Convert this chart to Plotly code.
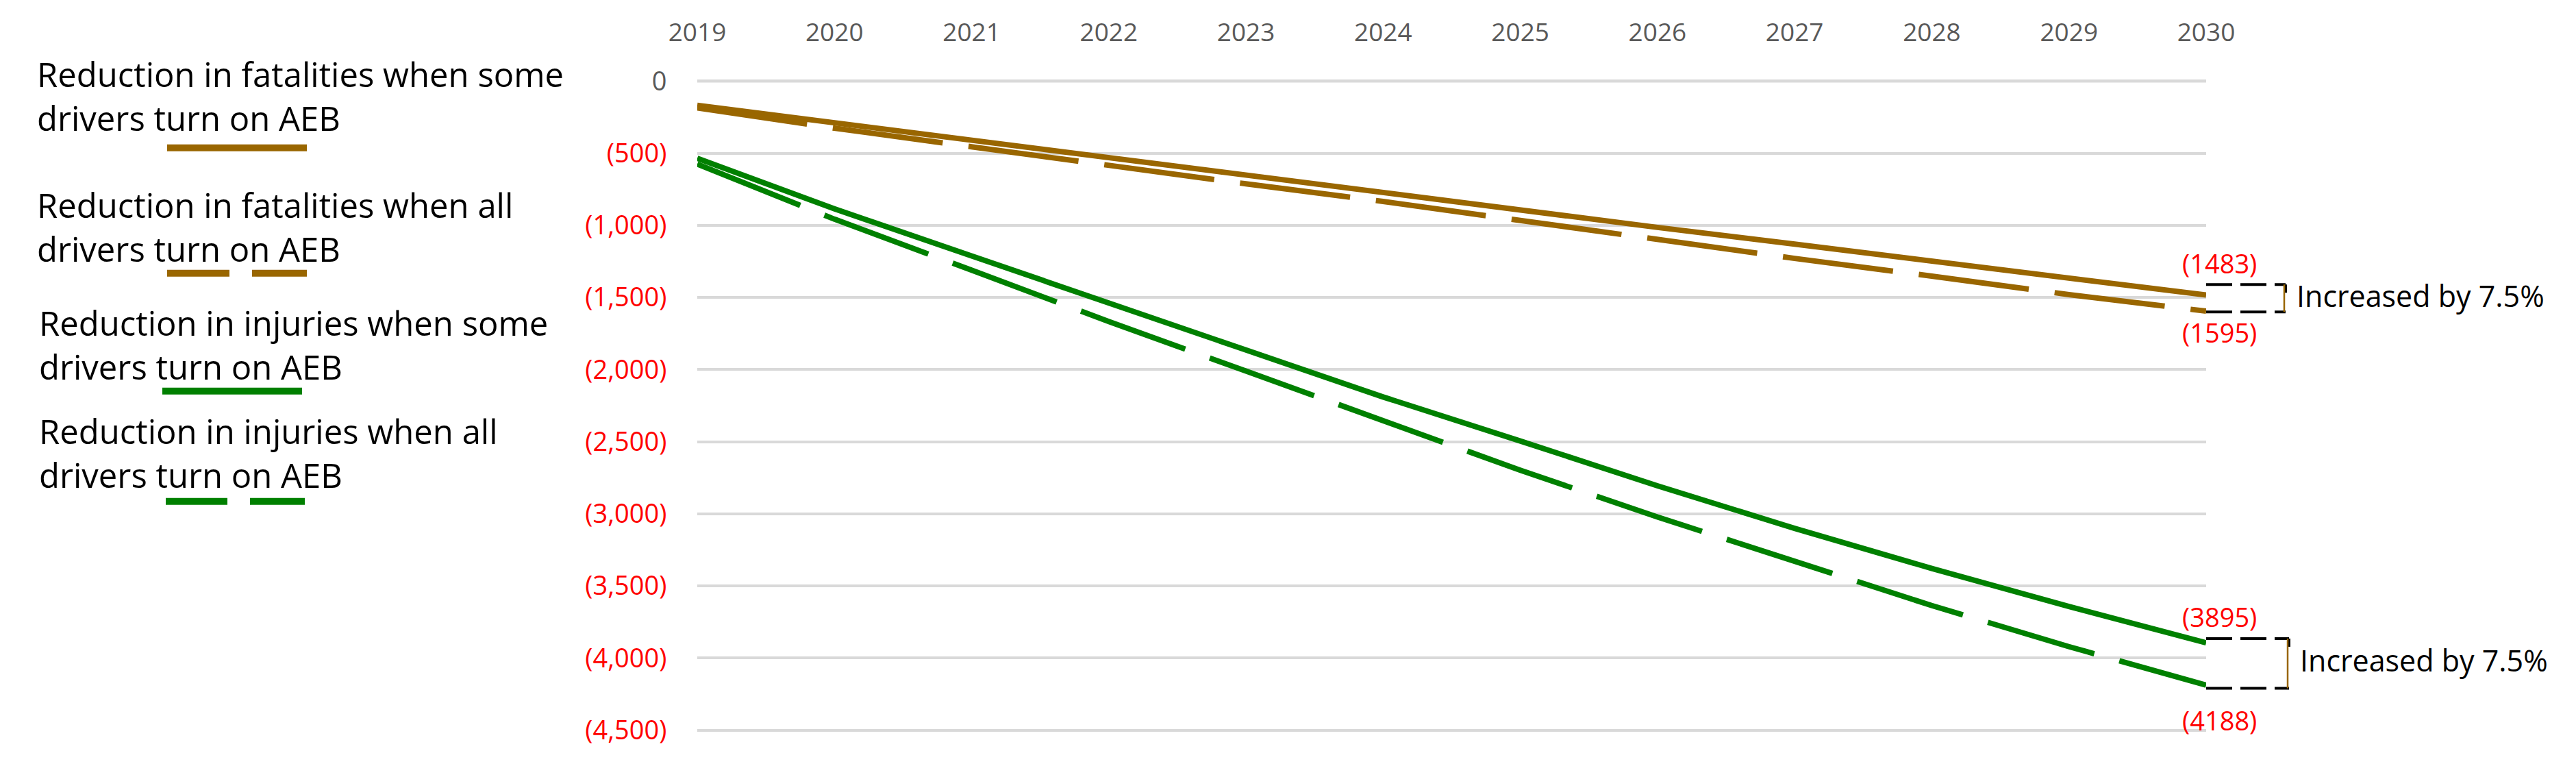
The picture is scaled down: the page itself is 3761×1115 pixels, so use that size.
import plotly.graph_objects as go

# ---------------- data ----------------
years = [2019, 2020, 2021, 2022, 2023, 2024, 2025, 2026, 2027, 2028, 2029, 2030]
fat_some = [-168, -290, -411, -533, -652, -774, -894, -1014, -1130, -1248, -1366, -1483]
fat_all = [-185, -326, -455, -585, -712, -834, -968, -1102, -1229, -1352, -1480, -1595]
inj_some = [-535, -885, -1212, -1541, -1867, -2190, -2495, -2806, -3101, -3379, -3643, -3895]
inj_all = [-575, -957, -1311, -1667, -2010, -2353, -2698, -3022, -3333, -3636, -3921, -4188]

series_names = [
    "Reduction in fatalities when some<br>drivers turn on AEB",
    "Reduction in fatalities when all<br>drivers turn on AEB",
    "Reduction in injuries when some<br>drivers turn on AEB",
    "Reduction in injuries when all<br>drivers turn on AEB",
]
ytick_vals = [0, -500, -1000, -1500, -2000, -2500, -3000, -3500, -4000, -4500]
ytick_text = ["0", "(500)", "(1,000)", "(1,500)", "(2,000)", "(2,500)",
              "(3,000)", "(3,500)", "(4,000)", "(4,500)"]
end_labels = ["(1483)", "(1595)", "(3895)", "(4188)"]
increase_text = "Increased by 7.5%"

BROWN = "#996600"
GREEN = "#008000"
RED = "#FF0000"
GRAY = "#595959"
GRID = "#D9D9D9"
FONT = "Open Sans"

# page geometry (page pixels); body has an 8px default margin
OFF = 8
PAGE_W, PAGE_H = 3761, 1115
FW, FH = PAGE_W - 2 * OFF, PAGE_H - 2 * OFF
L_PAGE, R_PAGE = 1018, 3221
TOP_PAGE, BOT_PAGE = 113, 1066            # y of 0 and of -4500
YMIN, YMAX = -4500, 0
EPS = 40                                   # small range padding so edge gridlines show
upx = (BOT_PAGE - TOP_PAGE) / (YMAX - YMIN)
pad = EPS * upx
Y0P, Y1P = TOP_PAGE - pad, BOT_PAGE + pad  # plot area top / bottom in page px


def px(x):
    return (x - L_PAGE) / (R_PAGE - L_PAGE)


def py(y):
    return (Y1P - y) / (Y1P - Y0P)


fig = go.Figure()
data = [fat_some, fat_all, inj_some, inj_all]
colors = [BROWN, BROWN, GREEN, GREEN]
dashes = ["solid", "162px,38px", "solid", "162px,38px"]
for vals, c, d, n in zip(data, colors, dashes, series_names):
    fig.add_trace(go.Scatter(x=years, y=vals, mode="lines", name=n.replace("<br>", " "),
                             line=dict(color=c, width=8, dash=d), showlegend=False,
                             hoverinfo="skip"))

shapes = []
annotations = []

# explicit baseline gridline at 0 (drawn under the data)
shapes.append(dict(type="line", xref="paper", yref="y", x0=0, x1=1, y0=0, y1=0,
                   layer="below", line=dict(color=GRID, width=4)))

# ---------- custom legend (text above sample line) ----------
leg_text_y = [135, 327, 500, 659]
leg_text_x = [52, 52, 55, 55]
leg_line_y = [211, 395, 568, 730]
leg_line_segs = [
    [(244, 448)],
    [(244, 335), (368, 448)],
    [(237, 441)],
    [(242, 332), (365, 445)],
]
for i in range(4):
    annotations.append(dict(xref="paper", yref="paper", x=px(leg_text_x[i]), y=py(leg_text_y[i]),
                            xanchor="left", yanchor="middle", align="left", showarrow=False,
                            text=series_names[i], font=dict(family=FONT, size=49, color="#000000")))
    for (x0, x1) in leg_line_segs[i]:
        shapes.append(dict(type="line", xref="paper", yref="paper",
                           x0=px(x0), x1=px(x1), y0=py(leg_line_y[i]), y1=py(leg_line_y[i]),
                           line=dict(color=colors[i], width=10)))

# ---------- end labels ----------
label_vals = [-1260, -1742, -3715, -4433]
for t, yv in zip(end_labels, label_vals):
    annotations.append(dict(xref="paper", yref="y", x=px(3240), y=yv, xanchor="center",
                            yanchor="middle", showarrow=False, text=t,
                            font=dict(family=FONT, size=38, color=RED)))

# ---------- bracket boxes ----------
boxes = [(-1410, -1600, 3337, -1486), (-3865, -4210, 3342, -4013)]
for (ytop, ybot, xr, ytxt) in boxes:
    for yy in (ytop, ybot):
        shapes.append(dict(type="line", xref="paper", yref="y", x0=px(R_PAGE), x1=px(xr),
                           y0=yy, y1=yy, line=dict(color="#000000", width=4, dash="38px,12px")))
    shapes.append(dict(type="line", xref="paper", yref="y", x0=px(xr), x1=px(xr),
                       y0=ytop, y1=ybot, line=dict(color="#000000", width=4, dash="12px,400px")))
    shapes.append(dict(type="line", xref="paper", yref="y", x0=px(xr - 2), x1=px(xr - 2),
                       y0=ytop, y1=ybot, line=dict(color=BROWN, width=2.5)))
    annotations.append(dict(xref="paper", yref="y", x=px(xr + 14), y=ytxt, xanchor="left",
                            yanchor="middle", showarrow=False, text=increase_text,
                            font=dict(family=FONT, size=43, color="#000000")))

ytick_labels = [("<span style='color:%s'>%s</span>" % (GRAY, t)) if v == 0 else t
                for v, t in zip(ytick_vals, ytick_text)]

fig.update_layout(
    width=FW, height=FH,
    margin=dict(l=L_PAGE - OFF, r=FW - (R_PAGE - OFF), t=Y0P - OFF, b=FH - (Y1P - OFF),
                pad=0),
    paper_bgcolor="white", plot_bgcolor="white",
    shapes=shapes, annotations=annotations,
    xaxis=dict(range=[2019, 2030], side="top", tickmode="array", tickvals=years,
               ticktext=[str(y) for y in years], showgrid=False, zeroline=False,
               showline=False, ticks="outside", ticklen=34, tickcolor="rgba(0,0,0,0)",
               tickfont=dict(family=FONT, size=37, color=GRAY)),
    yaxis=dict(range=[YMIN - EPS, YMAX + EPS], tickmode="array", tickvals=ytick_vals,
               ticktext=ytick_labels,
               showgrid=True, gridcolor=GRID, gridwidth=4,
               zeroline=True, zerolinecolor=GRID, zerolinewidth=4,
               showline=False, ticks="outside", ticklen=36, tickcolor="rgba(0,0,0,0)",
               tickfont=dict(family=FONT, size=38, color=RED)),
)

fig.write_html("out.html")
